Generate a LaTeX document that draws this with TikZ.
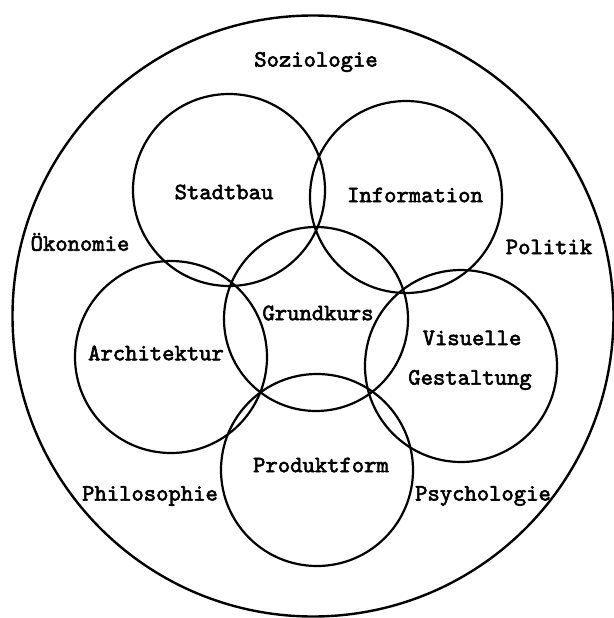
\documentclass[tikz,border=0pt]{standalone}
\usepackage{fontspec}
\newfontfamily\twfont{lmmono10-regular.otf}[FakeBold=2.5]
\begin{document}
\begin{tikzpicture}[x=1pt,y=-1pt,
  ring/.style={circle, draw, line width=2.2pt, inner sep=0pt, minimum size=192pt},
  lbl/.style={font=\twfont\fontsize{23.5}{26}\selectfont, inner sep=0pt}]
\useasboundingbox (0,0) rectangle (613,618);
\node[circle, draw, line width=2.4pt, inner sep=0pt, minimum size=601pt] (outer) at (313,316) {};
\node[ring] (stadt) at (229,190) {};
\node[ring] (info) at (406,197) {};
\node[ring] (archi) at (171,357) {};
\node[ring] (visu) at (461,366) {};
\node[ring] (prod) at (317,470) {};
\node[ring, minimum size=184pt] (grund) at (316,319) {};
\node[lbl] (tsoz) at (316,62) {Soziologie};
\node[lbl] (tstadt) at (224,192) {Stadtbau};
\node[lbl] (tinfo) at (415,195) {Information};
\node[lbl] (toek) at (80,242) {Ökonomie};
\node[lbl] (tpol) at (549,247) {Politik};
\node[lbl] (tgrund) at (318,313) {Grundkurs};
\node[lbl] (tarchi) at (156,353) {Architektur};
\node[lbl] (tvis) at (472,338) {Visuelle};
\node[lbl] (tgest) at (470,380) {Gestaltung};
\node[lbl] (tprod) at (321,465) {Produktform};
\node[lbl] (tphil) at (150,496) {Philosophie};
\node[lbl] (tpsy) at (483,496) {Psychologie};
\end{tikzpicture}
\end{document}
